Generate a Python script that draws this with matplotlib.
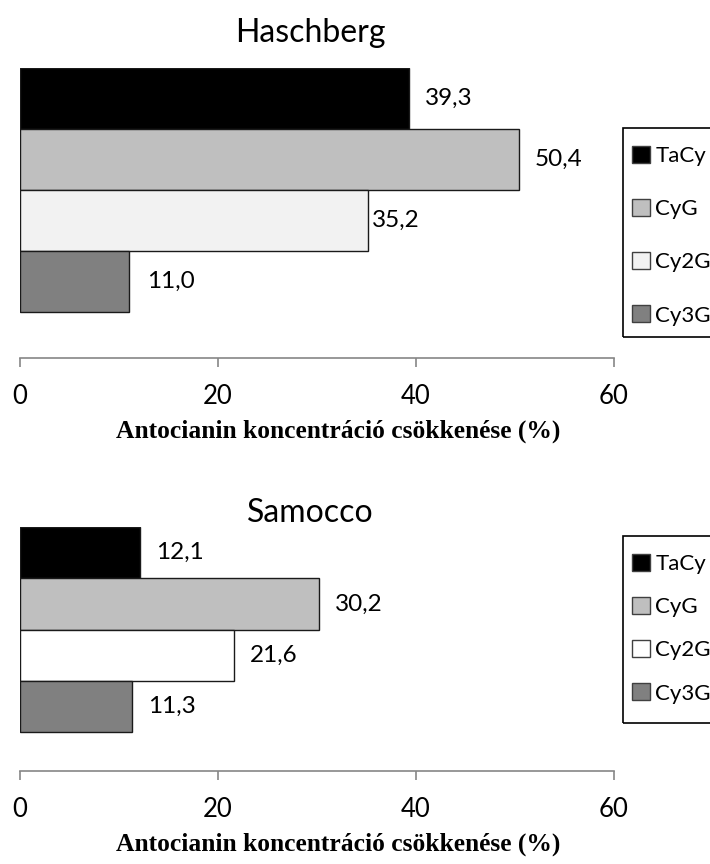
import matplotlib
matplotlib.use("Agg")
import matplotlib.pyplot as plt
from matplotlib.patches import Patch, Rectangle

# Data
series = ["TaCy", "CyG", "Cy2G", "Cy3G"]
haschberg = [39.3, 50.4, 35.2, 11.0]
samocco = [12.1, 30.2, 21.6, 11.3]
titles = ["Haschberg", "Samocco"]
xticks = [0, 20, 40, 60]
xlabel = "Antocianin koncentráció csökkenése (%)"

colors_top = ["#000000", "#bfbfbf", "#f2f2f2", "#808080"]
colors_bottom = ["#000000", "#bfbfbf", "#ffffff", "#808080"]

W, H = 710, 864
DPI = 100
fig = plt.figure(figsize=(W / DPI, H / DPI), dpi=DPI)

SANS = ["Lato", "DejaVu Sans"]
SERIF = ["Liberation Serif", "DejaVu Serif"]


def px_axes(left, top, right, bottom):
    return fig.add_axes([left / W, 1 - bottom / H, (right - left) / W, (bottom - top) / H])


def draw_panel(ax, values, colors, title, title_base, label_pads, box, entry_top, spacing):
    n = len(values)
    ypos = list(range(n - 1, -1, -1))
    ax.barh(ypos, values, height=1.0, color=colors, edgecolor="#1a1a1a", linewidth=1.0)
    ax.set_xlim(0, 60)
    ax.set_ylim(-0.5 - 0.75, n - 0.5)
    for sp in ["left", "right", "top"]:
        ax.spines[sp].set_visible(False)
    ax.spines["bottom"].set_color("#868686")
    ax.spines["bottom"].set_linewidth(1.2)
    ax.set_yticks([])
    ax.set_xticks(xticks)
    ax.set_xticklabels([str(t) for t in xticks])
    ax.tick_params(axis="x", direction="out", length=6.5, width=1.2, color="#868686",
                   pad=12, labelsize=18.5)
    for lab in ax.get_xticklabels():
        lab.set_family(SANS)
    ax.set_xlabel(xlabel, family=SERIF, fontweight="bold", fontsize=18.4,
                  labelpad=8, x=(338 - 20) / 594)
    for y, v, p in zip(ypos, values, label_pads):
        ax.annotate(f"{v:.1f}".replace(".", ","), xy=(v, y), xytext=(p, 0),
                    textcoords="offset pixels", va="center", ha="left",
                    family=SANS, fontsize=17.5)
    fig.text(310 / W, 1 - title_base / H, title, ha="center", va="baseline",
             family=SANS, fontsize=23)

    # legend frame (runs past the right edge of the figure)
    x0, y0, x1, y1 = box
    fig.patches.append(Rectangle((x0 / W, 1 - y1 / H), (x1 - x0) / W, (y1 - y0) / H,
                                 transform=fig.transFigure, fill=False,
                                 edgecolor="#000000", linewidth=1.2))
    handles = [Patch(facecolor=c, edgecolor="#404040", linewidth=1.0) for c in colors]
    fig.legend(handles, series, loc="upper left",
               bbox_to_anchor=((x0 + 9) / W, 1 - entry_top / H),
               frameon=False, prop={"family": SANS, "size": 16},
               handlelength=0.8, handleheight=0.8, handletextpad=0.25,
               labelspacing=spacing, borderpad=0, borderaxespad=0)


ax1 = px_axes(20, 68, 614, 358)
draw_panel(ax1, haschberg, colors_top, titles[0], 42, [16, 16, 3, 18],
           (623, 128, 730, 337), 146, 1.48)

ax2 = px_axes(20, 527, 614, 771)
draw_panel(ax2, samocco, colors_bottom, titles[1], 522, [16, 16, 16, 16],
           (623, 536, 730, 723), 554, 1.03)

fig.savefig("out.png", dpi=DPI)
